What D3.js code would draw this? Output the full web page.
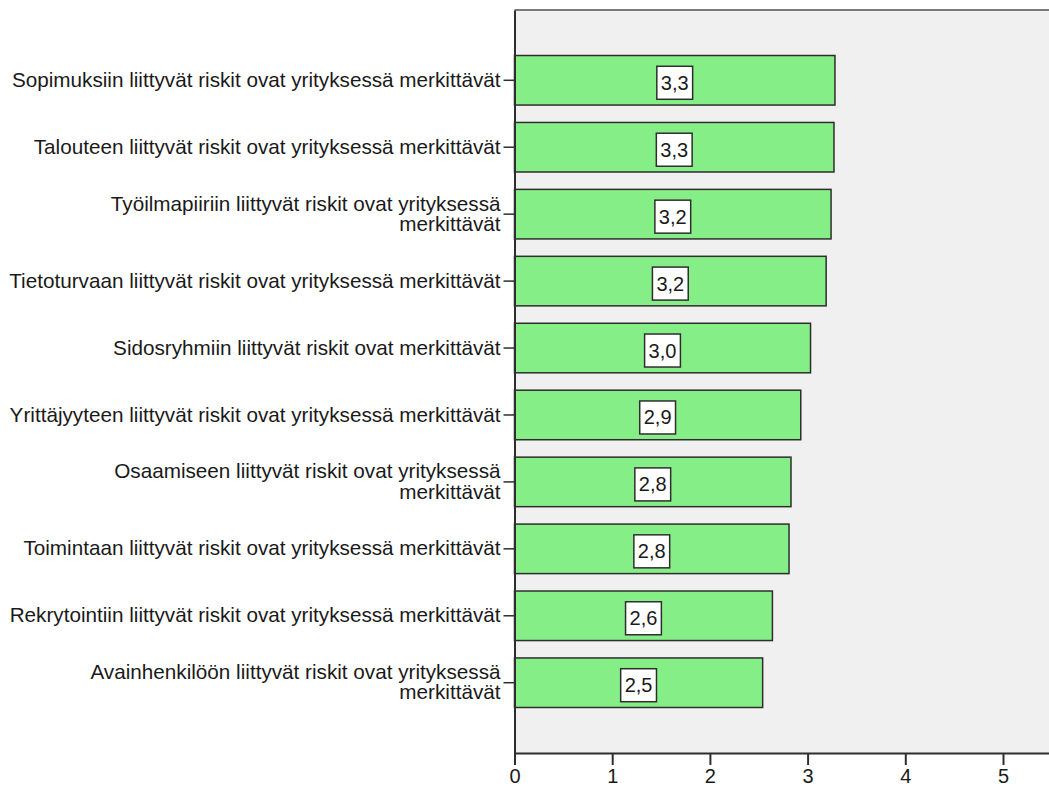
<!DOCTYPE html>
<html>
<head>
<meta charset="utf-8">
<script src="https://cdn.jsdelivr.net/npm/d3@7"></script>
<style>
  html, body { margin: 0; padding: 0; background: #ffffff; }
  svg { display: block; }
  text { font-family: "Liberation Sans", Arial, sans-serif; fill: #1a1a1a; }
</style>
</head>
<body>
<svg id="chart" width="1049" height="787"></svg>
<script>
// Risk statements (line breaks mark where a long label wraps)
const categories = [
  "Sopimuksiin liittyvät riskit ovat yrityksessä merkittävät",
  "Talouteen liittyvät riskit ovat yrityksessä merkittävät",
  "Työilmapiiriin liittyvät riskit ovat yrityksessä\nmerkittävät",
  "Tietoturvaan liittyvät riskit ovat yrityksessä merkittävät",
  "Sidosryhmiin liittyvät riskit ovat merkittävät",
  "Yrittäjyyteen liittyvät riskit ovat yrityksessä merkittävät",
  "Osaamiseen liittyvät riskit ovat yrityksessä\nmerkittävät",
  "Toimintaan liittyvät riskit ovat yrityksessä merkittävät",
  "Rekrytointiin liittyvät riskit ovat yrityksessä merkittävät",
  "Avainhenkilöön liittyvät riskit ovat yrityksessä\nmerkittävät"
];

// Mean scores
const means = [3.28, 3.27, 3.24, 3.19, 3.03, 2.93, 2.83, 2.81, 2.64, 2.54];

// Axis ticks
const xTicks = [0, 1, 2, 3, 4, 5];

const W = 1049, H = 787;
const plot = { left: 514.5, top: 10, bottom: 753 };

const svg = d3.select("#chart");

const x = d3.scaleLinear().domain([0, 6]).range([plot.left, plot.left + 6 * 97.7]);
const y = d3.scaleBand()
  .domain(categories)
  .range([plot.top, plot.bottom])
  .paddingInner(0.26)
  .paddingOuter(0.68);

const fmt = v => d3.format(".1f")(v).replace(".", ",");

// Plot background
svg.append("rect")
  .attr("x", plot.left).attr("y", plot.top)
  .attr("width", W - plot.left + 10).attr("height", plot.bottom - plot.top)
  .attr("fill", "#f0f0f0");

// Top frame line
svg.append("line")
  .attr("x1", plot.left).attr("x2", W + 5)
  .attr("y1", plot.top).attr("y2", plot.top)
  .attr("stroke", "#7a7a7a").attr("stroke-width", 2);

// Bars
svg.append("g").selectAll("rect")
  .data(categories)
  .join("rect")
  .attr("x", x(0))
  .attr("y", d => y(d))
  .attr("width", (d, i) => x(means[i]) - x(0))
  .attr("height", y.bandwidth())
  .attr("fill", "#86ee86")
  .attr("stroke", "#2e2e2e")
  .attr("stroke-width", 1.5);

// Value labels in boxes
const lab = svg.append("g").selectAll("g")
  .data(categories)
  .join("g")
  .attr("transform", (d, i) => `translate(${(x(0) + x(means[i])) / 2},${y(d) + y.bandwidth() / 2 + 2.5})`);

lab.append("text")
  .attr("text-anchor", "middle")
  .attr("dy", "0.35em")
  .style("font-size", "20px")
  .text((d, i) => fmt(means[i]))
  .each(function () {
    const bb = this.getBBox();
    const w = bb.width + 8, h = 33;
    d3.select(this.parentNode).insert("rect", "text")
      .attr("x", -w / 2).attr("y", -h / 2)
      .attr("width", w).attr("height", h)
      .attr("fill", "#ffffff")
      .attr("stroke", "#2e2e2e")
      .attr("stroke-width", 1.5);
  });

// Y axis
const yAxis = svg.append("g")
  .attr("transform", `translate(${plot.left},0)`)
  .call(d3.axisLeft(y).tickSize(11).tickSizeOuter(0).tickPadding(3));
yAxis.select(".domain").attr("stroke", "#2e2e2e").attr("stroke-width", 2);
yAxis.selectAll(".tick line").attr("stroke", "#2e2e2e").attr("stroke-width", 1.5);
yAxis.selectAll(".tick text")
  .style("font-size", "20.7px")
  .attr("fill", "#1a1a1a")
  .each(function (d) {
    const t = d3.select(this);
    const lines = d.split("\n");
    t.text(null);
    const x0 = t.attr("x");
    const off = (lines.length - 1) / 2;
    lines.forEach((ln, k) => {
      t.append("tspan")
        .attr("x", x0)
        .attr("dy", k === 0 ? `${0.32 - off * 0.97}em` : "0.97em")
        .text(ln);
    });
  });

// X axis
const xAxis = svg.append("g")
  .attr("transform", `translate(0,${plot.bottom})`)
  .call(d3.axisBottom(x).tickValues(xTicks).tickSize(12).tickSizeOuter(0).tickPadding(4).tickFormat(d3.format("d")));
xAxis.select(".domain").attr("stroke", "#2e2e2e").attr("stroke-width", 2);
xAxis.selectAll(".tick line").attr("stroke", "#2e2e2e").attr("stroke-width", 2);
xAxis.selectAll(".tick text").style("font-size", "20px").attr("fill", "#1a1a1a");
</script>
</body>
</html>
